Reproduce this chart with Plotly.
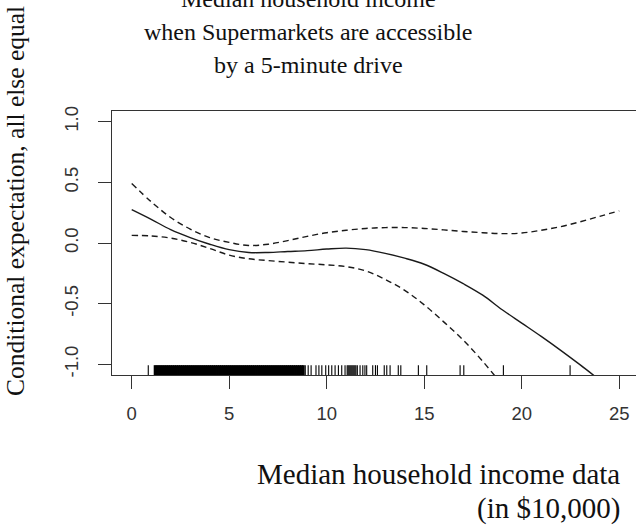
import plotly.graph_objects as go

# ---- data ----
fit_x = [0, 1, 2, 3, 4, 5, 6, 7, 8, 9, 10, 11, 12, 13, 14, 15, 16, 17, 18, 19, 20, 21, 22, 23, 24]
fit_y = [0.275, 0.195, 0.11, 0.045, -0.01, -0.055, -0.078, -0.078, -0.07, -0.063, -0.05, -0.042,
         -0.055, -0.085, -0.125, -0.175, -0.25, -0.335, -0.43, -0.55, -0.66, -0.77, -0.885, -1.005, -1.13]

upper_x = [0, 1, 2, 3, 4, 5, 6, 7, 8, 9, 10, 11, 12, 13, 14, 15, 16, 17, 18, 19, 20, 21, 22, 23, 24, 25]
upper_y = [0.49, 0.34, 0.21, 0.115, 0.045, 0.005, -0.02, -0.01, 0.02, 0.055, 0.085, 0.105, 0.12,
           0.127, 0.127, 0.12, 0.108, 0.095, 0.085, 0.077, 0.082, 0.105, 0.135, 0.175, 0.22, 0.265]

lower_x = [0, 1, 2, 3, 4, 5, 6, 7, 8, 9, 10, 11, 12, 13, 14, 15, 16, 17, 18, 19]
lower_y = [0.063, 0.058, 0.04, 0.005, -0.045, -0.1, -0.13, -0.145, -0.158, -0.17, -0.18, -0.195,
           -0.23, -0.3, -0.39, -0.51, -0.65, -0.8, -0.975, -1.17]

# rug: dense part (observations packed closely) and sparse part
rug_dense = [1.2, 1.3, 1.4, 1.5, 1.6, 1.7, 1.8, 1.9, 2.0, 2.1, 2.2, 2.3, 2.4, 2.5, 2.6, 2.7, 2.8, 2.9,
             3.0, 3.1, 3.2, 3.3, 3.4, 3.5, 3.6, 3.7, 3.8, 3.9, 4.0, 4.1, 4.2, 4.3, 4.4, 4.5, 4.6, 4.7,
             4.8, 4.9, 5.0, 5.1, 5.2, 5.3, 5.4, 5.5, 5.6, 5.7, 5.8, 5.9, 6.0, 6.1, 6.2, 6.3, 6.4, 6.5,
             6.6, 6.7, 6.8, 6.9, 7.0, 7.1, 7.2, 7.3, 7.4, 7.5, 7.6, 7.7, 7.8, 7.9, 8.0, 8.1, 8.2, 8.3,
             8.4, 8.5, 8.6, 8.7, 8.8]
rug_sparse = [0.85, 8.9, 9.05, 9.2, 9.45, 9.6, 9.75, 9.95, 10.1, 10.26, 10.43, 10.6, 10.77, 10.94,
              11.05, 11.1, 11.15, 11.2, 11.25, 11.3, 11.35, 11.4, 11.45, 11.5, 11.57, 11.71, 11.85,
              11.96, 12.05, 12.36, 12.5, 12.6, 12.95, 13.08, 13.25, 13.67, 13.8, 14.7, 15.13, 16.84,
              17.03, 19.06, 22.48]

x_ticks = [0, 5, 10, 15, 20, 25]
y_ticks = [-1.0, -0.5, 0.0, 0.5, 1.0]
y_tick_text = ["-1.0", "-0.5", "0.0", "0.5", "1.0"]

title_lines = ["Median household income", "when Supermarkets are accessible", "by a 5-minute drive"]
x_title_lines = ["Median household income data", "(in $10,000)"]
y_title = "Conditional expectation, all else equal"

# ---- layout geometry ----
W, H = 636, 527
ML, MT, MB, MR = 112, 111, 152, 0
PW, PH = W - ML - MR, H - MT - MB
X_RANGE = [-1.01, 25.86]
Y_RANGE = [-1.088, 1.088]
RUG_TOP = -1.007

def px(xp):
    return (xp - ML) / PW

def py(yp):
    return (H - MB - yp) / PH

ink = "#1a1a1a"
serif = "Liberation Serif, Times New Roman, serif"
sans = "Liberation Sans, Arial, sans-serif"

def rug_xy(vals):
    xs, ys = [], []
    for v in vals:
        xs += [v, v, None]
        ys += [Y_RANGE[0], RUG_TOP, None]
    return xs, ys

fig = go.Figure()
dx, dy = rug_xy(rug_dense)
fig.add_trace(go.Scatter(x=dx, y=dy, mode="lines", line=dict(color="#000000", width=2.8),
                         hoverinfo="skip", showlegend=False))
sx, sy = rug_xy(rug_sparse)
fig.add_trace(go.Scatter(x=sx, y=sy, mode="lines", line=dict(color="#000000", width=1.1),
                         hoverinfo="skip", showlegend=False))
fig.add_trace(go.Scatter(x=upper_x, y=upper_y, mode="lines", line_shape="spline",
                         line=dict(color=ink, width=1.4, dash="6px,4px"), showlegend=False))
fig.add_trace(go.Scatter(x=lower_x, y=lower_y, mode="lines", line_shape="spline",
                         line=dict(color=ink, width=1.4, dash="6px,4px"), showlegend=False))
fig.add_trace(go.Scatter(x=fit_x, y=fit_y, mode="lines", line_shape="spline",
                         line=dict(color=ink, width=1.4), showlegend=False))

annotations = []
title_centers = [-1, 32, 65]
for t, yc in zip(title_lines, title_centers):
    annotations.append(dict(text=t, x=px(308), y=py(yc), xref="paper", yref="paper",
                            xanchor="center", yanchor="middle", showarrow=False,
                            font=dict(family=serif, size=24, color="#111111")))
xt_centers = [474, 508]
for t, yc in zip(x_title_lines, xt_centers):
    annotations.append(dict(text=t, x=px(622), y=py(yc), xref="paper", yref="paper",
                            xanchor="right", yanchor="middle", showarrow=False,
                            font=dict(family=serif, size=29, color="#111111")))
annotations.append(dict(text=y_title, x=px(15), y=py(201), xref="paper", yref="paper",
                        xanchor="center", yanchor="middle", textangle=-90, showarrow=False,
                        font=dict(family=serif, size=25.5, color="#111111")))

fig.update_layout(
    width=W, height=H,
    margin=dict(l=ML, r=MR, t=MT, b=MB, autoexpand=False),
    paper_bgcolor="white", plot_bgcolor="white",
    annotations=annotations,
    xaxis=dict(range=X_RANGE, tickvals=x_ticks, ticks="outside", ticklen=13, tickwidth=1.2,
               tickcolor="#333333", showline=True, linecolor="#333333", linewidth=1.4,
               mirror=True, showgrid=False, zeroline=False, automargin=False,
               ticklabelstandoff=9,
               tickfont=dict(family=sans, size=18.5, color="#333333")),
    yaxis=dict(range=Y_RANGE, tickvals=y_ticks, ticktext=y_tick_text, ticks="outside",
               ticklen=13, tickwidth=1.2, tickcolor="#333333", showline=True,
               linecolor="#333333", linewidth=1.4, mirror=False, showgrid=False,
               zeroline=False, automargin=False, tickangle=-90, ticklabelstandoff=12,
               tickfont=dict(family=sans, size=18.5, color="#333333")),
)

fig.write_html("out.html", config={"displayModeBar": False},
               post_script="document.body.style.margin='0';document.body.style.overflow='hidden';")
